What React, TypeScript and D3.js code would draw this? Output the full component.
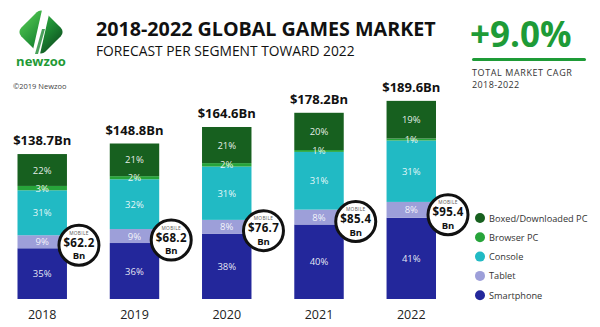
import React from 'react';
import * as d3 from 'd3';

// Global games market forecast, share of revenue per segment
const years = ['2018', '2019', '2020', '2021', '2022'];
const totals = [138.7, 148.8, 164.6, 178.2, 189.6];
const mobileTotals = [62.2, 68.2, 76.7, 85.4, 95.4];

const smartphone = [35, 36, 38, 40, 41];
const tablet = [9, 9, 8, 8, 8];
const consoleShare = [31, 32, 31, 31, 31];
const browserPc = [3, 2, 2, 1, 1];
const boxedPc = [22, 21, 21, 20, 19];

const segments = [
  { key: 'smartphone', label: 'Smartphone', color: '#23279b', values: smartphone },
  { key: 'tablet', label: 'Tablet', color: '#9d9fd9', values: tablet },
  { key: 'console', label: 'Console', color: '#21bac4', values: consoleShare },
  { key: 'browser', label: 'Browser PC', color: '#27a43a', values: browserPc },
  { key: 'boxed', label: 'Boxed/Downloaded PC', color: '#17601f', values: boxedPc },
];

const W = 600;
const H = 327;
const FONT = '"Open Sans", "DejaVu Sans", sans-serif';

export default function App() {
  const x = d3.scaleBand<string>().domain(years).range([17.5, 436]).paddingInner(0.464).paddingOuter(0);
  const y = d3.scaleLinear().domain([0, 200]).range([299, 90]);

  // stack rows in Bn: each segment = total * share
  const rows = years.map((yr, i) => {
    const r: Record<string, number | string> = { year: yr };
    segments.forEach(s => { r[s.key] = (totals[i] * s.values[i]) / 100; });
    return r;
  });
  const stack = d3.stack<any>().keys(segments.map(s => s.key));
  const series = stack(rows);

  const legendItems = [...segments].reverse();

  return (
    <div style={{ position: 'absolute', left: 0, top: 0 }}>
      <svg width={W} height={H} style={{ display: 'block', background: '#fff', fontFamily: FONT }}>
        <defs>
          <linearGradient id="logoGrad" x1="0" y1="0" x2="1" y2="0">
            <stop offset="0%" stopColor="#43b649" />
            <stop offset="55%" stopColor="#1f8f35" />
            <stop offset="100%" stopColor="#136226" />
          </linearGradient>
        </defs>

        {/* logo */}
        <g transform="translate(41,32)">
          <rect x={-17} y={-17} width={34} height={34} rx={6} fill="url(#logoGrad)" transform="rotate(45)" />
          <path d="M1,-22 L9,-22 L-1,22 L-9,22 Z" fill="#fff" />
          <path d="M1,-3 L4,-3 L-3,22 L-6,22 Z" fill="#1d8a33" opacity={0.8} />
        </g>
        <text x={41} y={66} textAnchor="middle" fontSize={13} fontWeight={700} fill="#1f9a36">newzoo</text>
        <text x={13} y={89} fontSize={7.5} fill="#444">©2019 Newzoo</text>

        {/* title */}
        <text x={96} y={36} fontSize={19.7} fontWeight={700} fill="#111">2018-2022 GLOBAL GAMES MARKET</text>
        <text x={96} y={56} fontSize={13.8} fill="#111">FORECAST PER SEGMENT TOWARD 2022</text>

        {/* CAGR badge */}
        <text x={470} y={47} fontSize={35} fontWeight={700} fill="#1e9b37">+9.0%</text>
        <rect x={472} y={58} width={114} height={3} rx={1.5} fill="#1e9b37" />
        <text x={472} y={76} fontSize={9} letterSpacing={0.6} fill="#333">TOTAL MARKET CAGR</text>
        <text x={472} y={88} fontSize={9} letterSpacing={0.4} fill="#333">2018-2022</text>

        {/* stacked bars */}
        {series.map((s, si) => (
          <g key={s.key}>
            {s.map((d, i) => (
              <rect
                key={i}
                x={x(years[i])}
                y={y(d[1])}
                width={x.bandwidth()}
                height={y(d[0]) - y(d[1])}
                fill={segments[si].color}
              />
            ))}
          </g>
        ))}

        {/* share labels */}
        {series.map((s, si) => (
          <g key={`l-${s.key}`}>
            {s.map((d, i) => (
              <text
                key={i}
                x={(x(years[i]) ?? 0) + x.bandwidth() / 2}
                y={y((d[0] + d[1]) / 2) + 3.5}
                textAnchor="middle"
                fontSize={9.5}
                fill="#fff"
                fillOpacity={0.9}
              >
                {segments[si].values[i]}%
              </text>
            ))}
          </g>
        ))}

        {/* totals */}
        {years.map((yr, i) => (
          <text
            key={`t-${yr}`}
            x={(x(yr) ?? 0) + x.bandwidth() / 2}
            y={y(totals[i]) - 9}
            textAnchor="middle"
            fontSize={13}
            fontWeight={700}
            fill="#111"
          >
            ${totals[i]}Bn
          </text>
        ))}

        {/* mobile badges */}
        {years.map((yr, i) => {
          const cx = (x(yr) ?? 0) + x.bandwidth() + 12;
          const cy = y((totals[i] * smartphone[i]) / 100) - 3;
          return (
            <g key={`m-${yr}`} transform={`translate(${cx},${cy})`}>
              <circle r={20} fill="#fff" stroke="#111" strokeWidth={3} />
              <text y={-10.5} textAnchor="middle" fontSize={4.8} fill="#555" letterSpacing={0.3}>MOBILE</text>
              <text y={1.5} textAnchor="middle" fontSize={11.5} fontWeight={700} fill="#111" letterSpacing={0.3}>${mobileTotals[i]}</text>
              <text y={14} textAnchor="middle" fontSize={9.5} fontWeight={700} fill="#111">Bn</text>
            </g>
          );
        })}

        {/* year axis */}
        {years.map(yr => (
          <text
            key={`y-${yr}`}
            x={(x(yr) ?? 0) + x.bandwidth() / 2}
            y={319}
            textAnchor="middle"
            fontSize={12.5}
            fill="#222"
          >
            {yr}
          </text>
        ))}

        {/* legend */}
        {legendItems.map((s, i) => (
          <g key={`lg-${s.key}`} transform={`translate(480,${218 + i * 19.3})`}>
            <circle r={5} fill={s.color} />
            <text x={9} y={3.5} fontSize={9.2} fill="#333">{s.label}</text>
          </g>
        ))}
      </svg>
    </div>
  );
}
